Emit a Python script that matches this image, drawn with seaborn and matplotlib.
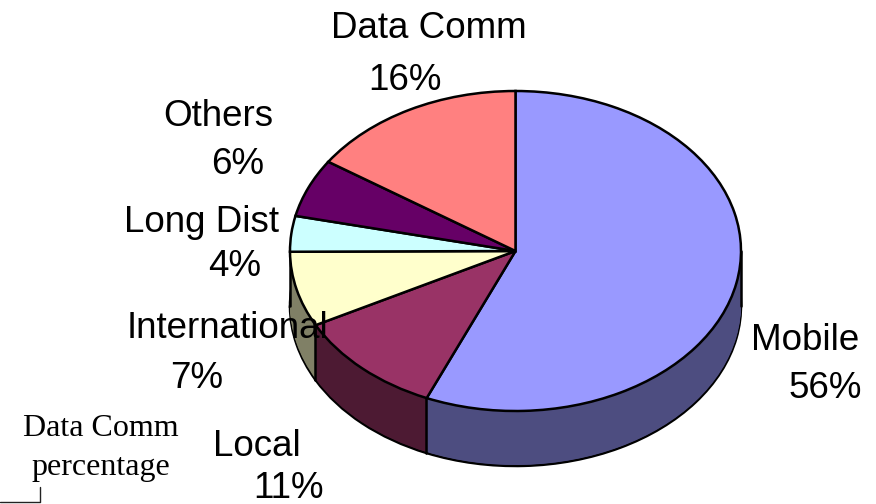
import matplotlib
matplotlib.use('Agg')
import matplotlib.pyplot as plt
import numpy as np
import seaborn as sns

categories = ['Mobile', 'Local', 'International', 'Long Dist', 'Others', 'Data Comm']
# wedge sizes, the printed labels are rounded
shares = [56.5, 10.9, 7.6, 3.6, 5.9, 15.6]
percent_labels = ['56%', '11%', '7%', '4%', '6%', '16%']
top_colors = ['#9999ff', '#993366', '#ffffcc', '#ccffff', '#660066', '#ff8080']
side_colors = ['#4d4d80', '#4d1a33', '#808066', '#668080', '#330033', '#804040']
note_lines = ['Data Comm', 'percentage']

WIDTH, HEIGHT = 876, 504
CX, CY, RX, RY = 515.5, 251, 225.5, 160
DEPTH = 55


def main():
	sns.set_theme(style='white')
	plt.rcParams['font.family'] = ['Liberation Sans', 'DejaVu Sans']

	fig = plt.figure(figsize=(WIDTH / 100, HEIGHT / 100), dpi=100)
	ax = fig.add_axes([0, 0, 1, 1])

	# side of the pie: same wedges stacked downwards in the dark colours
	for d in range(DEPTH, 0, -1):
		edge = 'black' if d == DEPTH else 'none'
		ax.pie(shares, colors=side_colors, startangle=90, counterclock=False,
			center=(0, -d / RY), wedgeprops={'linewidth': 1.8, 'edgecolor': edge, 'zorder': 1})

	ax.pie(shares, colors=top_colors, startangle=90, counterclock=False,
		wedgeprops={'linewidth': 1.8, 'edgecolor': 'black', 'zorder': 3})

	ax.set_aspect('auto')
	ax.set_xlim(-CX / RX, (WIDTH - CX) / RX)
	ax.set_ylim((CY - HEIGHT) / RY, CY / RY)

	# vertical edges on the visible side
	drop = DEPTH / RY
	for cum in np.cumsum(shares)[:2]:
		a = np.radians(90 - 3.6 * cum)
		ax.plot([np.cos(a)] * 2, [np.sin(a), np.sin(a) - drop], color='black', lw=1.8, zorder=2)
	for x in (-1, 1):
		ax.plot([x, x], [0, -drop], color='black', lw=1.8, zorder=2)

	# label positions in reference pixels
	name_pos = [(805, 341), (257, 447), (227, 328), (202, 223), (218, 116), (429, 28)]
	pct_pos = [(825, 389), (288, 488), (197, 379), (235, 266), (238, 165), (405, 81)]
	for text, (x, y) in zip(categories + percent_labels, name_pos + pct_pos):
		fig.text(x / WIDTH, 1 - y / HEIGHT, text, fontsize=26.5, color='black',
			ha='center', va='center', zorder=5)

	note_pos = [(101, 429), (101, 468)]
	for text, (x, y) in zip(note_lines, note_pos):
		fig.text(x / WIDTH, 1 - y / HEIGHT, text, fontsize=23, color='black',
			family='Liberation Serif', ha='center', va='center')

	# small callout bracket under the note
	ax.plot(np.array([40, 40, 0]) / RX - CX / RX, (CY - np.array([487, 501.5, 501.5])) / RY,
		color='#222222', lw=1, zorder=2, clip_on=False)

	fig.savefig('out.png', dpi=100)


if __name__ == '__main__':
	main()
